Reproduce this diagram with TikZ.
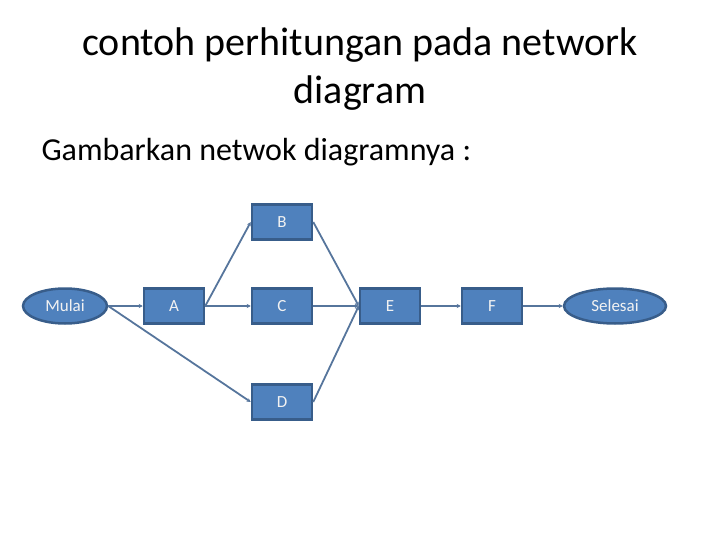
\documentclass[tikz,border=0pt]{standalone}
\usepackage{fontspec}
\setmainfont{Carlito}
\usetikzlibrary{shapes.geometric,arrows.meta}
\definecolor{boxfill}{HTML}{4F81BD}
\definecolor{boxline}{HTML}{385D8A}
\definecolor{boxtext}{HTML}{F2F2F2}
\begin{document}
\begin{tikzpicture}[x=1pt,y=-1pt,
  actbox/.style={rectangle,draw=boxline,line width=2.5pt,fill=boxfill,text=boxtext,
    minimum width=60pt,minimum height=35pt,inner sep=0pt,font=\fontsize{17}{20}\selectfont},
  endnode/.style={ellipse,draw=boxline,line width=2.5pt,fill=boxfill,text=boxtext,
    minimum height=35pt,inner sep=0pt,font=\fontsize{17}{20}\selectfont},
  link/.style={draw=boxline!85!white,line width=1.8pt,-{Stealth[length=4pt,width=4pt]}}]
\useasboundingbox (0,0) rectangle (720,540);
\node[font=\fontsize{40}{48}\selectfont,align=center] (title) at (360,69) {contoh perhitungan pada network\\diagram};
\node[anchor=west,font=\fontsize{32}{38}\selectfont] (sub) at (38,152) {Gambarkan netwok diagramnya :};
\node[endnode,minimum width=84pt] (mulai) at (65,306) {Mulai};
\node[actbox] (A) at (174,306) {A};
\node[actbox] (B) at (282,222) {B};
\node[actbox] (C) at (282,306) {C};
\node[actbox] (D) at (282,402) {D};
\node[actbox] (E) at (390,306) {E};
\node[actbox] (F) at (492,306) {F};
\node[endnode,minimum width=102pt] (selesai) at (615,306) {Selesai};
\draw[link] (mulai.east) -- (A.west);
\draw[link] (A.east) -- (B.west);
\draw[link] (A.east) -- (C.west);
\draw[link] (mulai.east) -- (D.west);
\draw[link] (B.east) -- (E.west);
\draw[link] (C.east) -- (E.west);
\draw[link] (D.east) -- (E.west);
\draw[link] (E.east) -- (F.west);
\draw[link] (F.east) -- (selesai.west);
\end{tikzpicture}
\end{document}
